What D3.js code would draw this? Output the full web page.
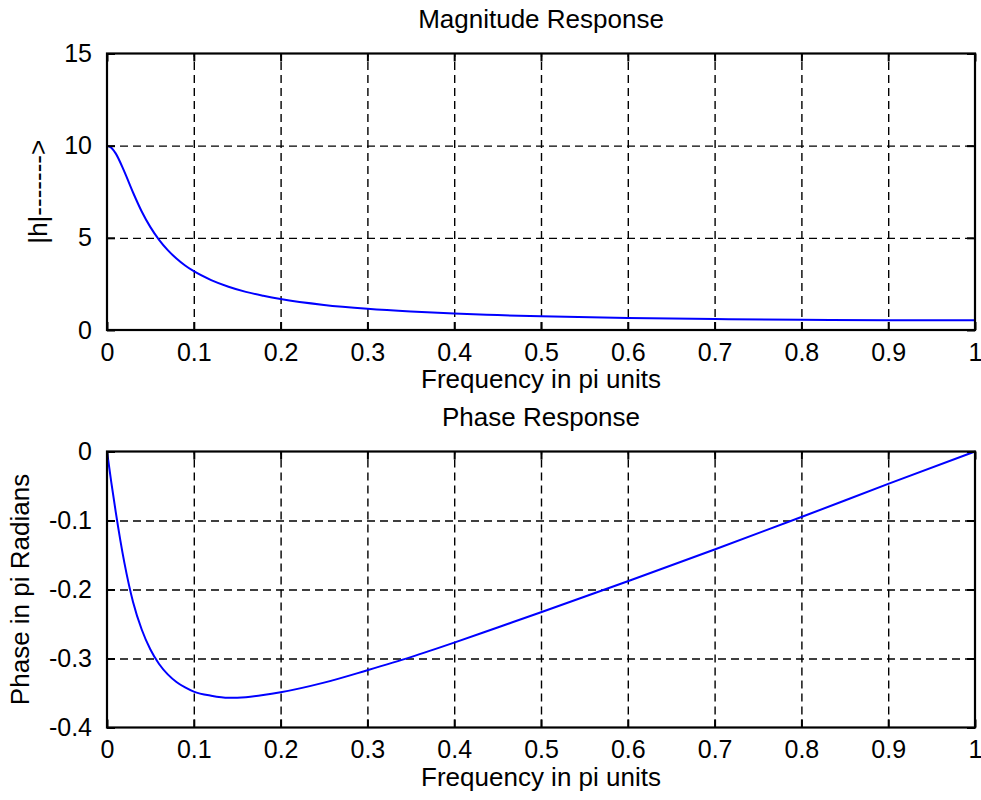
<!DOCTYPE html>
<html>
<head>
<meta charset="utf-8">
<script src="https://cdn.jsdelivr.net/npm/d3@7"></script>
<style>
  body { margin: 0; background: #fff; }
  text { font-family: "Liberation Sans", Arial, sans-serif; fill: #000; }
  .grid line { stroke: #000; stroke-width: 1.4; stroke-dasharray: 8,5; }
  .grid path { display: none; }
  .ticks path { display: none; }
  .ticks line { stroke: #000; stroke-width: 2; }
  .ticks text { font-size: 25px; }
  .frame { fill: none; stroke: #000; stroke-width: 2.2; }
  .curve { fill: none; stroke: #0000ff; stroke-width: 2; }
</style>
</head>
<body>
<div id="chart"></div>
<script>
// frequency (in pi units) where the curves are read
const freq = [0, 0.005, 0.01, 0.02, 0.03, 0.04, 0.05, 0.06, 0.07, 0.08, 0.09, 0.1,
  0.12, 0.14, 0.16, 0.18, 0.2, 0.25, 0.3, 0.35, 0.4, 0.45, 0.5, 0.6, 0.7, 0.8, 0.9, 1.0];
const magnitude = [10, 9.89, 9.58, 8.59, 7.46, 6.43, 5.58, 4.89, 4.33, 3.88, 3.50, 3.19,
  2.71, 2.35, 2.07, 1.86, 1.68, 1.36, 1.15, 1.00, 0.89, 0.81, 0.74, 0.65, 0.59, 0.55, 0.53, 0.53];
const phase = [0, -0.045, -0.087, -0.161, -0.218, -0.258, -0.287, -0.308, -0.323, -0.334, -0.342, -0.348,
  -0.354, -0.357, -0.356, -0.353, -0.349, -0.335, -0.317, -0.298, -0.277, -0.255, -0.233, -0.188, -0.142, -0.095, -0.047, 0];

const xTicks = [0, 0.1, 0.2, 0.3, 0.4, 0.5, 0.6, 0.7, 0.8, 0.9, 1];
const magTicks = [0, 5, 10, 15];
const phaseTicks = [-0.4, -0.3, -0.2, -0.1, 0];

const W = 981, H = 800;
const svg = d3.select("#chart").append("svg").attr("width", W).attr("height", H);
const fmt = d => String(d); // plain hyphen minus like matlab

function panel(cfg) {
  const left = 107, right = 975;
  const x = d3.scaleLinear().domain([0, 1]).range([left, right]);
  const y = d3.scaleLinear().domain(cfg.yDomain).range([cfg.bottom, cfg.top]);
  const h = cfg.bottom - cfg.top, w = right - left;
  const g = svg.append("g");

  // grid
  g.append("g").attr("class", "grid").attr("transform", `translate(0,${cfg.bottom})`)
    .call(d3.axisBottom(x).tickValues(xTicks.slice(1, -1)).tickSize(-h).tickFormat(""));
  g.append("g").attr("class", "grid").attr("transform", `translate(${left},0)`)
    .call(d3.axisLeft(y).tickValues(cfg.yTicks.slice(1, -1)).tickSize(-w).tickFormat(""));

  // curve
  const line = d3.line().x((d, i) => x(freq[i])).y(d => y(d)).curve(d3.curveMonotoneX);
  g.append("path").datum(cfg.values).attr("class", "curve").attr("d", line);

  // ticks (inward, all four sides)
  g.append("g").attr("class", "ticks").attr("transform", `translate(0,${cfg.bottom})`)
    .call(d3.axisBottom(x).tickValues(xTicks).tickSize(-8).tickPadding(13).tickFormat(fmt));
  g.append("g").attr("class", "ticks").attr("transform", `translate(0,${cfg.top})`)
    .call(d3.axisTop(x).tickValues(xTicks).tickSize(-8).tickFormat(""));
  g.append("g").attr("class", "ticks").attr("transform", `translate(${left},0)`)
    .call(d3.axisLeft(y).tickValues(cfg.yTicks).tickSize(-8).tickPadding(15).tickFormat(fmt));
  g.append("g").attr("class", "ticks").attr("transform", `translate(${right},0)`)
    .call(d3.axisRight(y).tickValues(cfg.yTicks).tickSize(-8).tickFormat(""));

  g.append("rect").attr("class", "frame")
    .attr("x", left).attr("y", cfg.top).attr("width", w).attr("height", h);

  // labels
  const cx = (left + right) / 2;
  g.append("text").attr("x", cx).attr("y", cfg.top - 26).attr("text-anchor", "middle")
    .style("font-size", "26px").text(cfg.title);
  g.append("text").attr("x", cx).attr("y", cfg.bottom + 58).attr("text-anchor", "middle")
    .style("font-size", "26px").text("Frequency in pi units");
  g.append("text").attr("transform", `translate(${cfg.ylabelX},${(cfg.top + cfg.bottom) / 2}) rotate(-90)`)
    .attr("text-anchor", "middle").style("font-size", "26px").text(cfg.ylabel);
}

panel({ top: 53.5, bottom: 330, yDomain: [0, 15], yTicks: magTicks, values: magnitude,
  title: "Magnitude Response", ylabel: "|h|------->", ylabelX: 47 });
panel({ top: 451.5, bottom: 727.5, yDomain: [-0.4, 0], yTicks: phaseTicks, values: phase,
  title: "Phase Response", ylabel: "Phase in pi Radians", ylabelX: 29 });
</script>
</body>
</html>
